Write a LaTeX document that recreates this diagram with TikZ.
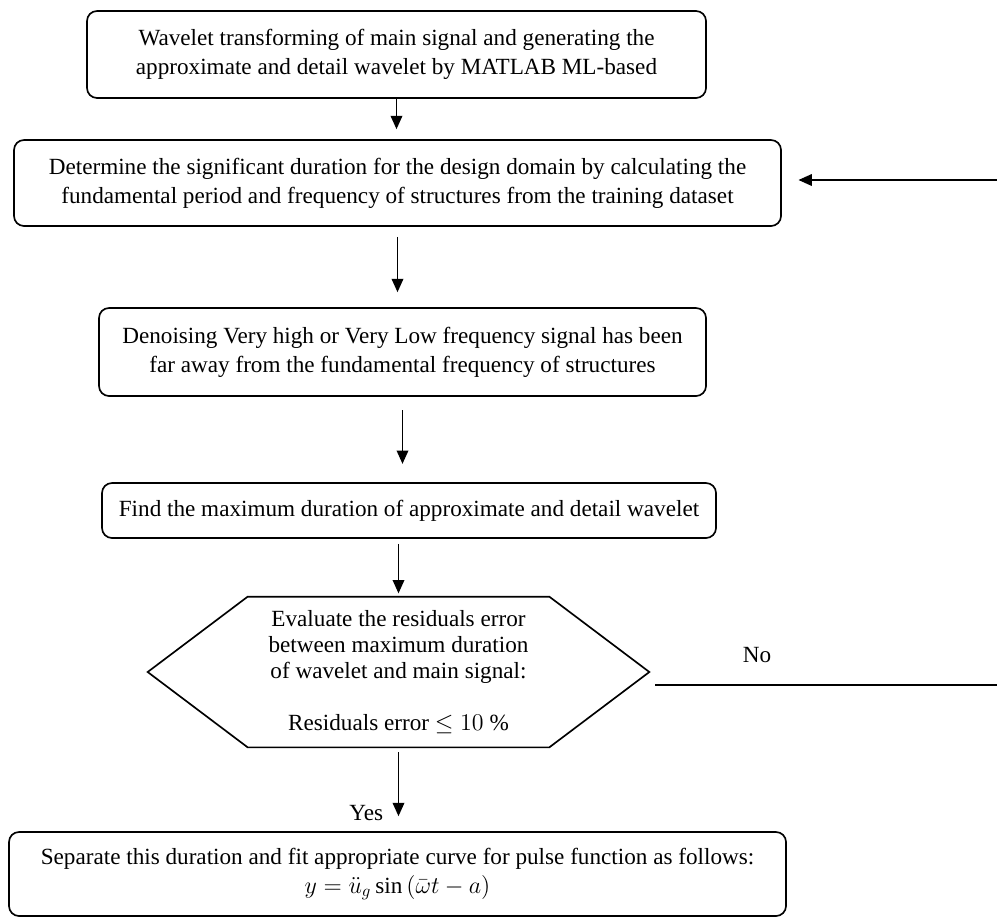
\documentclass[tikz,border=0pt]{standalone}
\usepackage{fontspec}
\setmainfont{Liberation Serif}
\usetikzlibrary{arrows.meta,calc}
\newdimen\px \px=0.6pt
\tikzset{
	stepbox/.style={draw, rounded corners=6pt, line width=1pt, align=center, inner sep=0pt,
		font=\fontsize{13.9pt}{17.4pt}\selectfont},
	decision/.style={align=center, inner sep=0pt, font=\fontsize{13.9pt}{15.6pt}\selectfont},
	hexline/.style={line width=1pt, line join=miter},
	flow/.style={-{Triangle[length=8pt,width=7pt]}, line width=0.8pt},
	plainline/.style={line width=0.8pt},
	flowlabel/.style={font=\fontsize{13.9pt}{16pt}\selectfont}
}
\begin{document}
\begin{tikzpicture}[x=0.6pt, y=-0.6pt]
	\useasboundingbox (0,0) rectangle (997,917);
	\node[stepbox, minimum width=619\px, minimum height=87\px] (transform) at (396.5,54.5)
		{Wavelet transforming of main signal and generating the\\approximate and detail wavelet by MATLAB ML-based};
	\node[stepbox, minimum width=767\px, minimum height=86\px] (duration) at (397.5,183)
		{Determine the significant duration for the design domain by calculating the\\fundamental period and frequency of structures from the training dataset};
	\node[stepbox, minimum width=607\px, minimum height=88\px] (denoise) at (402.5,352)
		{Denoising Very high or Very Low frequency signal has been\\far away from the fundamental frequency of structures};
	\node[stepbox, minimum width=614\px, minimum height=55\px] (maxdur) at (409,510.5)
		{Find the maximum duration of approximate and detail wavelet};
	\node[decision, minimum width=501\px, minimum height=150\px] (evaluate) at (398.5,672)
		{Evaluate the residuals error\\between maximum duration\\of wavelet and main signal:\\[15.6pt]Residuals error\ $\leq 10$ \%};
	\draw[hexline] (evaluate.west) -- ($(evaluate.north west)+(100,0)$) -- ($(evaluate.north east)+(-100,0)$) --
		(evaluate.east) -- ($(evaluate.south east)+(-100,0)$) -- ($(evaluate.south west)+(100,0)$) -- cycle;
	\node[stepbox, minimum width=777\px, minimum height=84\px] (separate) at (397.5,874)
		{Separate this duration and fit appropriate curve for pulse function as follows:\\$y=\ddot{u}_g\sin\,(\bar{\omega}t-a)$};

	\draw[flow, shorten >=6pt] (transform.south) -- (transform.south |- duration.north);
	\draw[flow, shorten <=6pt, shorten >=9pt] (duration.south) -- (duration.south |- denoise.north);
	\draw[flow, shorten <=8pt, shorten >=11pt] (denoise.south) -- (denoise.south |- maxdur.north);
	\draw[flow, shorten <=3pt, shorten >=2pt] (maxdur.south -| evaluate.north) -- (evaluate.north);
	\draw[flow, shorten <=3pt, shorten >=9pt] (evaluate.south) -- (evaluate.south |- separate.north);
	\node[flowlabel, anchor=base east] (yes) at (389,820) {Yes};

	\coordinate (retry) at (997,180);
	\coordinate (fail) at (997,685);
	\draw[plainline, shorten <=3.6pt] (fail -| evaluate.east) -- (fail);
	\node[flowlabel] (no) at (757,655) {No};
	\draw[flow, shorten >=10pt] (retry) -- (retry -| duration.east);
\end{tikzpicture}
\end{document}
